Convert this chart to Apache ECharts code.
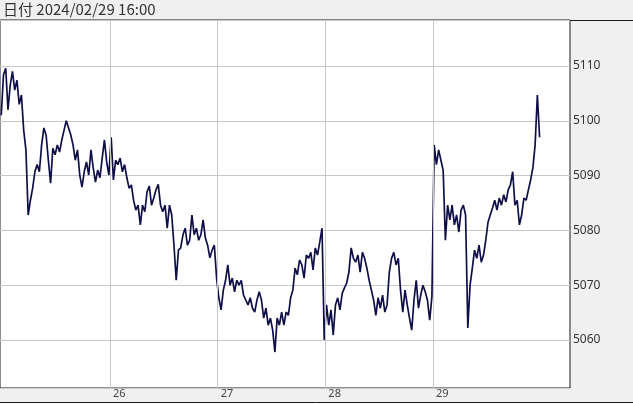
<!DOCTYPE html>
<html><head><meta charset="utf-8">
<script src="https://cdn.jsdelivr.net/npm/echarts@6/dist/echarts.min.js"></script>
<style>html,body{margin:0;padding:0;background:#f0f0f0;}#c{width:633px;height:404px;}</style>
</head><body><div id="c"></div>
<script>
const headerText = '日付 2024/02/29 16:00';
const dayTicks = [26, 27, 28, 29];
const priceTicks = [5060, 5070, 5080, 5090, 5100, 5110];
const startDay = 24.99;      // first sample (day of month, fractional)
const stepDay = 1 / 48;      // 30-minute samples

const day25 = [5101,5108.4,5109.6,5102,5106.5,5109,5105.6,5107.4,5103,5104.7,
5098.3,5094.7,5082.8,5085.5,5087.7,5090.7,5092,5090.7,5095.6,5098.7,
5097.4,5092.8,5088.6,5095,5093.8,5095.6,5094.3,5096.5,5098.3,5100,
5098.7,5097.4,5095.6,5092.8,5094.7,5090.1,5087.9,5090.7,5092.5,5090.1,
5094.7,5091.4,5088.8,5091,5089.6,5093.2,5096.5,5092.5,5090.1];
const day26 = [5097,5089.2,5092.8,5092,5093.2,5090.7,5092,5089.6,5087.7,5088.3,
5085.5,5083.7,5084.6,5081,5084.6,5083.4,5087,5088.1,5084.6,5085.9,
5087.4,5088.4,5084.6,5083.4,5084.6,5080.4,5084.6,5082.8,5077.3,5070.9,
5076.4,5076.8,5079.2,5080.4,5077.3,5078.2,5082.8,5079.2,5080.4,5078.2,
5079.2,5081.9,5078.6,5077.3,5075,5076.4,5077.3,5071.3];
const day27 = [5067.7,5065.5,5069.1,5070.9,5073.7,5070,5071.3,5068.8,5070.9,5070,
5070.9,5068.2,5067.3,5066.4,5067.7,5065.8,5065.1,5067.3,5068.8,5067.3,
5064,5065.8,5062.7,5064,5061.8,5057.8,5064,5062.7,5065.1,5062.7,
5065.1,5064.5,5067.7,5069.1,5073.1,5071.9,5074.6,5073.7,5071.3,5075.5,
5074.9,5076,5072.8,5076.8,5075.5,5077.9,5080.4,5060];
const day28 = [5066.4,5062.7,5065.5,5060.9,5066.4,5067.7,5065.5,5068.5,5069.5,5070.4,
5072.4,5076.8,5074.9,5074.2,5075.5,5072.4,5076,5074.9,5073.1,5070.9,
5069.1,5067.3,5064.5,5067.7,5065.8,5068.2,5065.1,5066.4,5072.4,5074.9,
5076,5073.7,5074.9,5069.1,5065.1,5069.1,5066.4,5064,5061.8,5067.3,
5070.9,5065.8,5068.2,5070,5068.8,5067.3,5063.6,5068];
const day29 = [5095.6,5092,5094.7,5092.8,5091,5078.2,5084.6,5081.9,5084.6,5081,
5082.8,5079.7,5083.7,5084.6,5082.8,5062.2,5070,5073.1,5076.4,5074.9,
5077.3,5074.2,5075.5,5078.2,5081.5,5082.8,5084.1,5085.5,5083.7,5085.9,
5084.6,5086.5,5085.2,5087.4,5088.3,5090.7,5084.6,5085.5,5081,5082.8,
5085.9,5085.5,5087.4,5089.2,5091.4,5095.6,5104.7,5097];

const prices = day25.concat(day26, day27, day28, day29);
const points = prices.map((v, i) => [startDay + i * stepDay, v]);

const chart = echarts.init(document.getElementById('c'), null, {renderer: 'canvas'});
const isInt = v => Math.abs(v - Math.round(v)) < 1e-6;
chart.setOption({
  animation: false,
  backgroundColor: '#f0f0f0',
  title: {
    text: headerText, left: 3, top: 2, padding: 0,
    textStyle: {fontSize: 15, fontWeight: 'normal', color: '#333', fontFamily: '"Noto Sans CJK JP", sans-serif'}
  },
  grid: {
    left: 0, right: 63, top: 20, bottom: 16,
    show: true, backgroundColor: '#ffffff', borderColor: '#1a1a1a', borderWidth: 1,
    containLabel: false, outerBoundsMode: 'none'
  },
  xAxis: {
    type: 'value', min: 24.9784, max: 30.2723,
    axisLine: {show: false}, axisTick: {show: false}, splitLine: {show: false},
    axisLabel: {
      margin: 0, align: 'left', padding: [0, 0, 0, 3], fontSize: 11, color: '#444',
      fontFamily: '"Noto Sans", sans-serif',
      formatter: v => (isInt(v) && dayTicks.includes(Math.round(v))) ? String(Math.round(v)) : ''
    }
  },
  yAxis: {
    type: 'value', position: 'right', min: 5051.24, max: 5118.39, scale: true,
    axisLine: {show: false}, axisTick: {show: false},
    splitLine: {show: true, lineStyle: {color: '#c8c8c8', width: 1}},
    axisLabel: {
      margin: 3, padding: [4, 0, 0, 0], fontSize: 12, color: '#333', fontFamily: '"Noto Sans", sans-serif',
      formatter: v => (isInt(v) && priceTicks.includes(Math.round(v))) ? String(Math.round(v)) : ''
    }
  },
  graphic: [
    {type: 'line', shape: {x1: 570, y1: 20.5, x2: 633, y2: 20.5}, style: {stroke: '#1a1a1a', lineWidth: 1}, silent: true},
    {type: 'line', shape: {x1: 0, y1: 402.5, x2: 633, y2: 402.5}, style: {stroke: '#1a1a1a', lineWidth: 1}, silent: true},
    {type: 'rect', shape: {x: 0, y: 403, width: 633, height: 1}, style: {fill: '#ffffff'}, silent: true}
  ],
  series: [
    {
      type: 'line', data: [], z: 1, silent: true,
      markLine: {
        silent: true, symbol: ['none', 'none'], label: {show: false},
        lineStyle: {color: '#c8c8c8', width: 1, type: 'solid'},
        emphasis: {disabled: true},
        data: dayTicks.map(d => ({xAxis: d}))
      }
    },
    {
      type: 'line', data: points, z: 3, showSymbol: false, symbol: 'none', silent: true,
      sampling: 'none',
      lineStyle: {color: '#0f0f48', width: 1.7},
      emphasis: {disabled: true}
    }
  ]
});
</script></body></html>
